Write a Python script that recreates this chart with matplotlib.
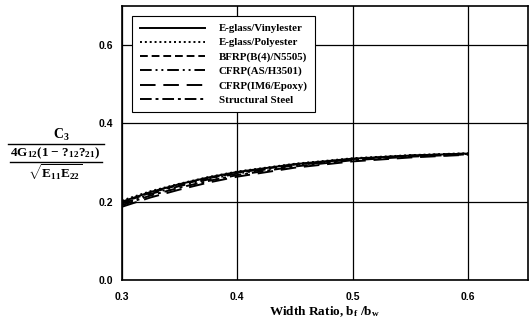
import matplotlib
matplotlib.use('Agg')
import matplotlib.pyplot as plt
from matplotlib.lines import Line2D

# configuracoes
plt.rcParams['mathtext.fontset'] = 'custom'
plt.rcParams['mathtext.rm'] = 'Liberation Serif:bold'
plt.rcParams['mathtext.it'] = 'Liberation Serif:bold'
plt.rcParams['mathtext.bf'] = 'Liberation Serif:bold'

# dados
ratio = [0.30, 0.325, 0.35, 0.375, 0.40, 0.45, 0.50, 0.55, 0.60]
vinylester = [0.200, 0.225, 0.245, 0.262, 0.276, 0.296, 0.310, 0.318, 0.323]
polyester = [0.203, 0.227, 0.246, 0.263, 0.277, 0.297, 0.311, 0.319, 0.324]
bfrp = [0.198, 0.223, 0.243, 0.260, 0.274, 0.295, 0.309, 0.318, 0.323]
cfrp_as = [0.195, 0.220, 0.240, 0.257, 0.272, 0.293, 0.308, 0.317, 0.322]
cfrp_im6 = [0.187, 0.211, 0.231, 0.249, 0.264, 0.287, 0.303, 0.313, 0.320]
steel = [0.191, 0.216, 0.236, 0.253, 0.268, 0.290, 0.306, 0.315, 0.321]

labels = ['E-glass/Vinylester', 'E-glass/Polyester', 'BFRP(B(4)/N5505)',
          'CFRP(AS/H3501)', 'CFRP(IM6/Epoxy)', 'Structural Steel']
series = [vinylester, polyester, bfrp, cfrp_as, cfrp_im6, steel]
styles = ['-', (0, (1, 1.5)), (0, (4, 2)), (0, (6, 2, 1, 2, 1, 2)),
          (0, (8, 4)), (0, (6, 2, 1.5, 2))]

fig = plt.figure(figsize=(5.3, 3.25), dpi=100)
ax = fig.add_axes([0.230, 0.1385, 0.766, 0.843])

for y, lab, ls in zip(series, labels, styles):
    ax.plot(ratio, y, color='black', linestyle=ls, linewidth=1.4, label=lab)

ax.set_xlim(0.3, 0.652)
ax.set_ylim(0.0, 0.7)
ax.set_xticks([0.3, 0.4, 0.5, 0.6])
ax.set_yticks([0.0, 0.2, 0.4, 0.6])
ax.set_xticklabels(['0.3', '0.4', '0.5', '0.6'])
ax.set_yticklabels(['0.0', '0.2', '0.4', '0.6'])
ax.tick_params(length=0, labelsize=7.5)
ax.tick_params(axis='x', pad=9)
ax.tick_params(axis='y', pad=6)
for t in ax.get_xticklabels() + ax.get_yticklabels():
    t.set_fontfamily('Liberation Sans')
    t.set_fontweight('bold')
ax.grid(True, color='black', linewidth=0.9)
for s in ax.spines.values():
    s.set_linewidth(1.2)

leg = ax.legend(loc='upper left', bbox_to_anchor=(0.025, 0.963), borderaxespad=0,
                fancybox=False, edgecolor='black', framealpha=1, handlelength=6.0,
                prop={'family': 'Liberation Serif', 'weight': 'bold', 'size': 7.8},
                labelspacing=0.42, borderpad=0.7, handletextpad=1.3)
leg.get_frame().set_linewidth(0.8)

ax.set_xlabel(r'Width Ratio, b$_{\rm f}$ /b$_{\rm w}$', fontsize=9.5,
              family='Liberation Serif', fontweight='bold', labelpad=1)

# rotulo do eixo y em forma de fracao
W, H = 530, 325
fig.text(61 / W, 1 - 135 / H, r'C$_3$', ha='center', va='center', fontsize=10,
         family='Liberation Serif', fontweight='bold')
fig.text(55 / W, 1 - 153 / H, r'4G$_{12}$(1 $-$ ?$_{12}$?$_{21}$)', ha='center',
         va='center', fontsize=9.5, family='Liberation Serif', fontweight='bold')
fig.text(55 / W, 1 - 172 / H, r'$\sqrt{\rm E_{11}E_{22}}$', ha='center',
         va='center', fontsize=9.5)
fig.add_artist(Line2D([8 / W, 104 / W], [1 - 144 / H, 1 - 144 / H], color='black', lw=1))
fig.add_artist(Line2D([10 / W, 102 / W], [1 - 162 / H, 1 - 162 / H], color='black', lw=1))

fig.savefig('out.png', dpi=100)
